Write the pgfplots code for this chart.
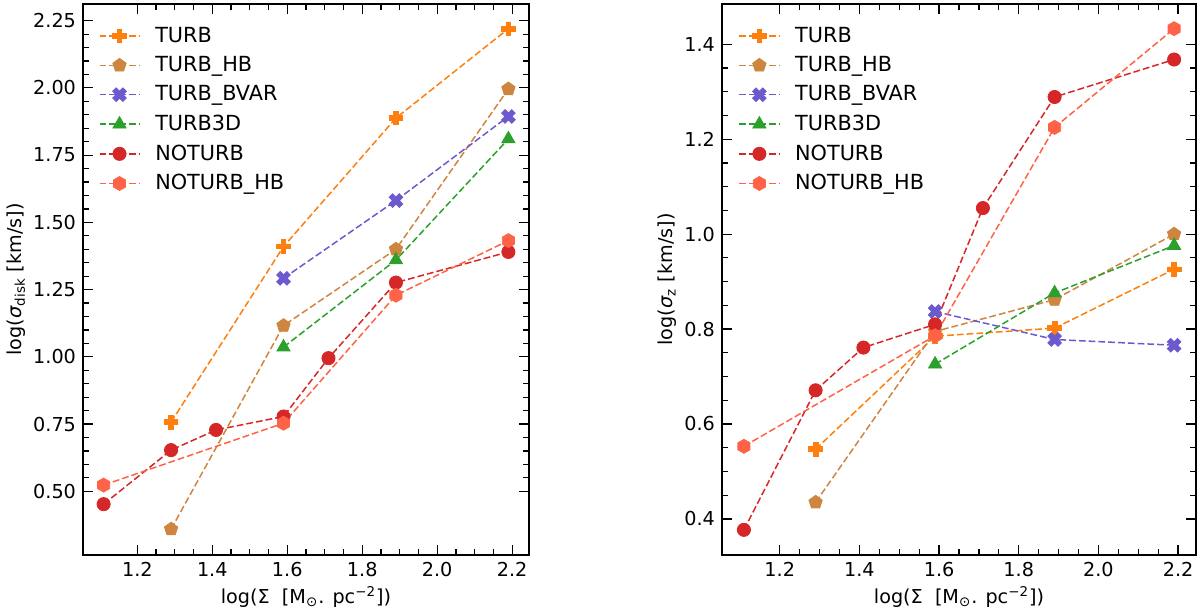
\documentclass[border=0pt]{standalone}
\usepackage{fontspec}
\setmainfont{DejaVu Sans}
\usepackage{pgfplots}
\pgfplotsset{compat=1.18}

\definecolor{cturb}{HTML}{FF7F0E}
\definecolor{cturbhb}{HTML}{CD853F}
\definecolor{cbvar}{HTML}{6A5ACD}
\definecolor{cthreed}{HTML}{2CA02C}
\definecolor{cnoturb}{HTML}{D62728}
\definecolor{cnoturbhb}{HTML}{FF6347}

% filled plus, filled cross and hexagon, as matplotlib draws them
\pgfdeclareplotmark{Pfill}{%
  \pgfpathmoveto{\pgfqpoint{-0.34\pgfplotmarksize}{\pgfplotmarksize}}%
  \pgfpathlineto{\pgfqpoint{0.34\pgfplotmarksize}{\pgfplotmarksize}}%
  \pgfpathlineto{\pgfqpoint{0.34\pgfplotmarksize}{0.34\pgfplotmarksize}}%
  \pgfpathlineto{\pgfqpoint{\pgfplotmarksize}{0.34\pgfplotmarksize}}%
  \pgfpathlineto{\pgfqpoint{\pgfplotmarksize}{-0.34\pgfplotmarksize}}%
  \pgfpathlineto{\pgfqpoint{0.34\pgfplotmarksize}{-0.34\pgfplotmarksize}}%
  \pgfpathlineto{\pgfqpoint{0.34\pgfplotmarksize}{-\pgfplotmarksize}}%
  \pgfpathlineto{\pgfqpoint{-0.34\pgfplotmarksize}{-\pgfplotmarksize}}%
  \pgfpathlineto{\pgfqpoint{-0.34\pgfplotmarksize}{-0.34\pgfplotmarksize}}%
  \pgfpathlineto{\pgfqpoint{-\pgfplotmarksize}{-0.34\pgfplotmarksize}}%
  \pgfpathlineto{\pgfqpoint{-\pgfplotmarksize}{0.34\pgfplotmarksize}}%
  \pgfpathlineto{\pgfqpoint{-0.34\pgfplotmarksize}{0.34\pgfplotmarksize}}%
  \pgfpathclose
  \pgfusepathqfillstroke}
\pgfdeclareplotmark{Xfill}{%
  \pgftransformrotate{45}%
  \pgfuseplotmark{Pfill}}
\pgfdeclareplotmark{hexa}{%
  \pgfpathmoveto{\pgfqpointpolar{90}{\pgfplotmarksize}}%
  \pgfpathlineto{\pgfqpointpolar{150}{\pgfplotmarksize}}%
  \pgfpathlineto{\pgfqpointpolar{210}{\pgfplotmarksize}}%
  \pgfpathlineto{\pgfqpointpolar{270}{\pgfplotmarksize}}%
  \pgfpathlineto{\pgfqpointpolar{330}{\pgfplotmarksize}}%
  \pgfpathlineto{\pgfqpointpolar{30}{\pgfplotmarksize}}%
  \pgfpathclose
  \pgfusepathqfillstroke}

\pgfplotsset{
  panel/.style={
    scale only axis,
    height=275.5pt,
    xmin=1.055, xmax=2.245,
    xtick={1.2,1.4,1.6,1.8,2.0,2.2},
    minor x tick num=3,
    tick align=inside,
    xtick pos=both, ytick pos=both,
    major tick length=5pt, minor tick length=3pt,
    every tick/.style={black, line width=0.6pt},
    axis line style={line width=0.9pt},
    font=\fontsize{9.6}{11}\selectfont,
    /pgf/number format/assume math mode=true,
    x tick label style={/pgf/number format/.cd, fixed, fixed zerofill, precision=1},
    xlabel={log(Σ\ \ [M\textsubscript{⊙}. pc\textsuperscript{−2}])},
    xlabel style={yshift=2pt},
    legend style={at={(0.03,0.99)}, anchor=north west, xshift=-2pt, yshift=-4.5pt,
      draw=none, fill=none,
      font=\fontsize{10.4}{12}\selectfont, row sep=1.6pt,
      nodes={inner xsep=4.5pt},
      /tikz/every odd column/.append style={column sep=3pt}},
    legend cell align=left,
    legend image code/.code={%
      \draw[mark repeat=2, mark phase=2] plot coordinates {(0pt,0pt) (10pt,0pt) (20pt,0pt)};},
  },
  ser/.style={color=#1, line width=0.75pt, dash pattern=on 3.4pt off 1.5pt,
    mark options={solid, fill=#1, draw=#1, line width=0.4pt}},
}

\begin{document}
\begin{tikzpicture}
\path[use as bounding box] (0,0) rectangle (600pt,307pt);

\begin{axis}[panel,
  at={(41.5pt,29.5pt)}, anchor=south west,
  width=223pt,
  ymin=0.263, ymax=2.312,
  ytick={0.5,0.75,1.0,1.25,1.5,1.75,2.0,2.25},
  minor y tick num=4,
  y tick label style={/pgf/number format/.cd, fixed, fixed zerofill, precision=2},
  ylabel={log(\textit{σ}\textsubscript{disk} [km/s])},
  ylabel style={yshift=-3pt},
]
\addplot[ser=cturb, mark=Pfill, mark size=3.4pt] coordinates {
  (1.29,0.757) (1.59,1.410) (1.89,1.888) (2.19,2.220)};
\addlegendentry{TURB}
\addplot[ser=cturbhb, mark=pentagon*, mark size=3.5pt] coordinates {
  (1.29,0.359) (1.59,1.116) (1.89,1.400) (2.19,1.996)};
\addlegendentry{TURB\_HB}
\addplot[ser=cbvar, mark=Xfill, mark size=3.6pt] coordinates {
  (1.59,1.292) (1.89,1.581) (2.19,1.894)};
\addlegendentry{TURB\_BVAR}
\addplot[ser=cthreed, mark=triangle*, mark size=3.8pt] coordinates {
  (1.59,1.036) (1.89,1.360) (2.19,1.810)};
\addlegendentry{TURB3D}
\addplot[ser=cnoturb, mark=*, mark size=3.3pt] coordinates {
  (1.11,0.452) (1.29,0.653) (1.41,0.728) (1.59,0.778) (1.71,0.995) (1.89,1.276) (2.19,1.390)};
\addlegendentry{NOTURB}
\addplot[ser=cnoturbhb, mark=hexa, mark size=3.5pt] coordinates {
  (1.11,0.523) (1.59,0.753) (1.89,1.229) (2.19,1.432)};
\addlegendentry{NOTURB\_HB}
\end{axis}

\begin{axis}[panel,
  at={(361pt,29.5pt)}, anchor=south west,
  width=237pt,
  ymin=0.324, ymax=1.485,
  ytick={0.4,0.6,0.8,1.0,1.2,1.4},
  minor y tick num=3,
  y tick label style={/pgf/number format/.cd, fixed, fixed zerofill, precision=1},
  ylabel={log(\textit{σ}\textsubscript{z} [km/s])},
  ylabel style={yshift=-3pt},
]
\addplot[ser=cturb, mark=Pfill, mark size=3.4pt] coordinates {
  (1.29,0.547) (1.59,0.785) (1.89,0.802) (2.19,0.926)};
\addlegendentry{TURB}
\addplot[ser=cturbhb, mark=pentagon*, mark size=3.5pt] coordinates {
  (1.29,0.435) (1.59,0.795) (1.89,0.862) (2.19,1.000)};
\addlegendentry{TURB\_HB}
\addplot[ser=cbvar, mark=Xfill, mark size=3.6pt] coordinates {
  (1.59,0.837) (1.89,0.778) (2.19,0.766)};
\addlegendentry{TURB\_BVAR}
\addplot[ser=cthreed, mark=triangle*, mark size=3.8pt] coordinates {
  (1.59,0.726) (1.89,0.876) (2.19,0.976)};
\addlegendentry{TURB3D}
\addplot[ser=cnoturb, mark=*, mark size=3.3pt] coordinates {
  (1.11,0.377) (1.29,0.671) (1.41,0.761) (1.59,0.810) (1.71,1.055) (1.89,1.289) (2.19,1.368)};
\addlegendentry{NOTURB}
\addplot[ser=cnoturbhb, mark=hexa, mark size=3.5pt] coordinates {
  (1.11,0.553) (1.59,0.786) (1.89,1.225) (2.19,1.433)};
\addlegendentry{NOTURB\_HB}
\end{axis}
\end{tikzpicture}
\end{document}
